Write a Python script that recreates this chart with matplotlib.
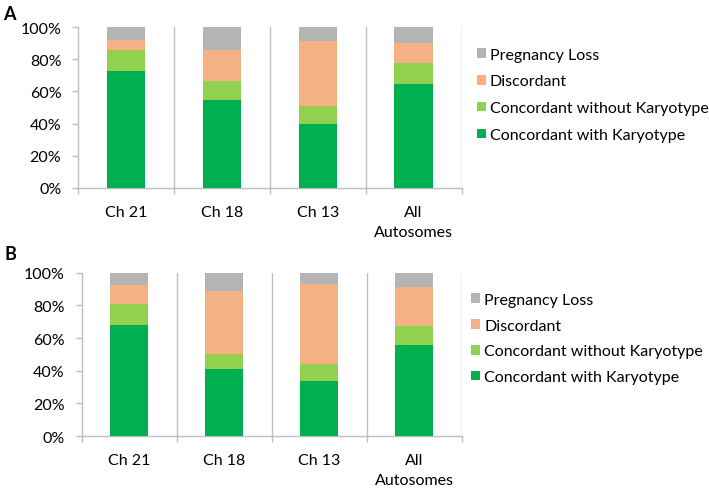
import matplotlib
matplotlib.use("Agg")
import matplotlib.pyplot as plt
import numpy as np
from matplotlib.patches import Patch
from matplotlib.ticker import FixedLocator, PercentFormatter

plt.rcParams["font.family"] = ["Lato", "DejaVu Sans"]

CATEGORIES = ["Ch 21", "Ch 18", "Ch 13", "All\nAutosomes"]
SERIES = ["Concordant with Karyotype", "Concordant without Karyotype",
          "Discordant", "Pregnancy Loss"]
COLORS = ["#00b050", "#92d050", "#f4b183", "#b4b4b4"]

# panel A (percent)
A_KARYO = [73, 55, 40, 64.6]
A_NOKARYO = [13, 11.5, 11, 13]
A_DISC = [6, 19, 40.5, 12.7]
A_LOSS = [8, 14.5, 8.5, 9.7]

# panel B (percent)
B_KARYO = [68, 41, 33.7, 56]
B_NOKARYO = [13, 9, 10.4, 11.5]
B_DISC = [11.5, 39, 48.8, 24]
B_LOSS = [7.5, 11, 7.1, 8.5]

GRID = "#bfbfbf"


def draw_panel(ax, series, legend_xy, labelspacing):
    x = np.arange(len(CATEGORIES))
    bottom = np.zeros(len(CATEGORIES))
    for vals, color in zip(series, COLORS):
        vals = np.array(vals, dtype=float)
        ax.bar(x, vals, 0.4, bottom=bottom, color=color, zorder=3)
        bottom += vals

    ax.set_xlim(-0.5, len(CATEGORIES) - 0.5)
    ax.set_ylim(0, 100)
    ax.yaxis.set_major_locator(FixedLocator([0, 20, 40, 60, 80, 100]))
    ax.yaxis.set_major_formatter(PercentFormatter(decimals=0))
    ax.set_xticks(x)
    ax.set_xticklabels(CATEGORIES, linespacing=1.55)
    ax.tick_params(axis="x", which="major", length=0, pad=12, labelsize=11.5)
    ax.xaxis.set_minor_locator(FixedLocator(np.arange(-0.5, len(CATEGORIES), 1.0)))
    ax.tick_params(axis="x", which="minor", length=4, color=GRID, width=1)
    ax.tick_params(axis="y", length=4, color=GRID, width=1, pad=8, labelsize=11.5)

    for b in np.arange(0.5, len(CATEGORIES), 1.0):
        ax.axvline(b, color=GRID, lw=1, zorder=1)

    for side in ["top", "right"]:
        ax.spines[side].set_visible(False)
    for side in ["left", "bottom"]:
        ax.spines[side].set_color(GRID)
        ax.spines[side].set_linewidth(1)

    handles = [Patch(facecolor=c, edgecolor="none") for c in COLORS]
    ax.legend(handles[::-1], SERIES[::-1], loc="upper left", bbox_to_anchor=legend_xy,
              frameon=False, fontsize=11.5, handlelength=0.55, handleheight=0.55,
              handletextpad=0.25, labelspacing=labelspacing, borderpad=0,
              borderaxespad=0)


fig = plt.figure(figsize=(7.09, 4.89), dpi=100)
ax_a = fig.add_axes([0.110, 0.6135, 0.541, 0.329])
ax_b = fig.add_axes([0.115, 0.1063, 0.536, 0.334])

draw_panel(ax_a, [A_KARYO, A_NOKARYO, A_DISC, A_LOSS], (1.04, 0.872), 0.8)
draw_panel(ax_b, [B_KARYO, B_NOKARYO, B_DISC, B_LOSS], (1.026, 0.877), 0.74)

fig.text(0.004, 0.988, "A", fontsize=13, fontweight="bold", va="top", ha="left")
fig.text(0.007, 0.497, "B", fontsize=13, fontweight="bold", va="top", ha="left")

fig.savefig("out.png", dpi=100)
